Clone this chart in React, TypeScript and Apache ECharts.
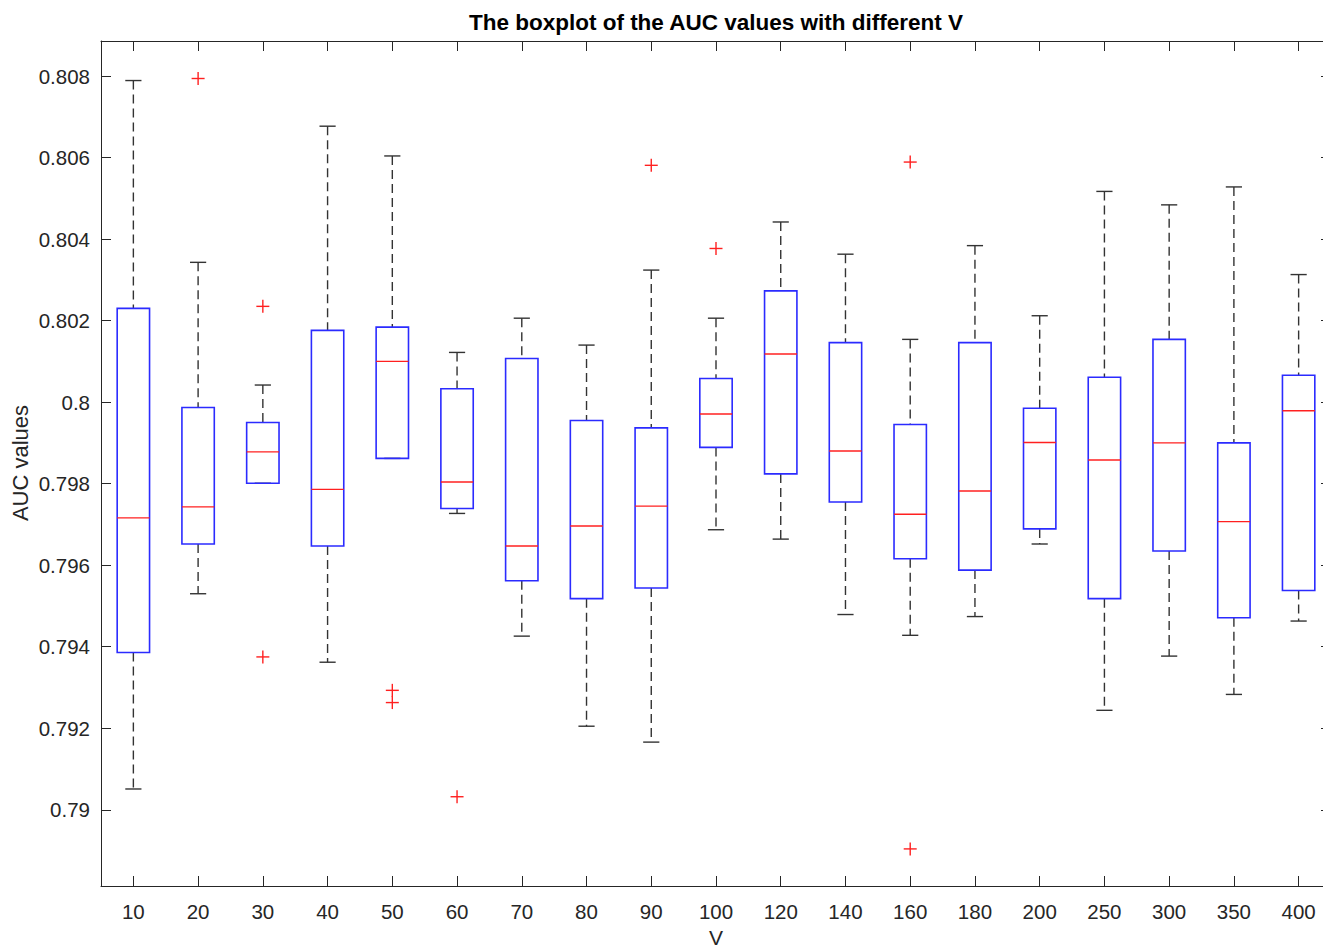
import React, { useEffect, useRef } from "react";
import * as echarts from "echarts";

const categories = ["10", "20", "30", "40", "50", "60", "70", "80", "90", "100", "120", "140", "160", "180", "200", "250", "300", "350", "400"];
const lowerWhisker = [0.79051, 0.7953, 0.79801, 0.79362, 0.79862, 0.79727, 0.79426, 0.79205, 0.79166, 0.79687, 0.79664, 0.79479, 0.79428, 0.79474, 0.79652, 0.79244, 0.79377, 0.79283, 0.79463];
const q1Values = [0.79386, 0.79652, 0.79801, 0.79647, 0.79862, 0.79739, 0.79562, 0.79518, 0.79544, 0.79889, 0.79824, 0.79755, 0.79616, 0.79588, 0.79689, 0.79518, 0.79635, 0.79471, 0.79538];
const medianValues = [0.79716, 0.79743, 0.79878, 0.79786, 0.801, 0.79804, 0.79647, 0.79696, 0.79745, 0.79971, 0.80118, 0.7988, 0.79725, 0.79782, 0.79901, 0.79858, 0.799, 0.79707, 0.79979];
const q3Values = [0.8023, 0.79987, 0.7995, 0.80176, 0.80184, 0.80033, 0.80107, 0.79955, 0.79937, 0.80058, 0.80273, 0.80146, 0.79945, 0.80146, 0.79985, 0.80061, 0.80154, 0.799, 0.80066];
const upperWhisker = [0.80789, 0.80343, 0.80042, 0.80677, 0.80604, 0.80122, 0.80206, 0.8014, 0.80324, 0.80206, 0.80442, 0.80363, 0.80154, 0.80384, 0.80212, 0.80517, 0.80484, 0.80528, 0.80313];
const outlierCategories = ["20", "30", "30", "50", "50", "60", "90", "100", "160", "160"];
const outlierValues = [0.80794, 0.80235, 0.79375, 0.79293, 0.79263, 0.79032, 0.80581, 0.80377, 0.80589, 0.78904];
const yTickValues = [0.79, 0.792, 0.794, 0.796, 0.798, 0.8, 0.802, 0.804, 0.806, 0.808];
const yMin = 0.78813;
const yMax = 0.80886;

const FONT = "'Liberation Sans', Arial, Helvetica, sans-serif";
const AXIS_COLOR = "#262626";

export default function App() {
  const ref = useRef<HTMLDivElement>(null);

  useEffect(() => {
    if (!ref.current) return;
    const chart = echarts.init(ref.current, null, { renderer: "svg" });

    const boxData = categories.map((_, i) => [
      i,
      lowerWhisker[i],
      q1Values[i],
      medianValues[i],
      q3Values[i],
      upperWhisker[i],
    ]);
    const outlierData = outlierCategories.map((c, i) => [categories.indexOf(c), outlierValues[i]]);

    const fmt = (v: number) => String(parseFloat(Number(v).toFixed(3)));

    const option: any = {
      animation: false,
      backgroundColor: "#ffffff",
      textStyle: { fontFamily: FONT },
      grid: { left: 101, top: 41, width: 1230, height: 845, containLabel: false },
      xAxis: [
        {
          type: "category",
          data: categories,
          position: "bottom",
          boundaryGap: true,
          axisLine: { show: true, lineStyle: { color: AXIS_COLOR, width: 1 } },
          axisTick: { show: true, inside: true, alignWithLabel: true, length: 10, lineStyle: { color: AXIS_COLOR } },
          axisLabel: { show: true, margin: 15, color: AXIS_COLOR, fontSize: 20.5, fontFamily: FONT, interval: 0 },
          splitLine: { show: false },
        },
        {
          type: "category",
          data: categories,
          position: "top",
          boundaryGap: true,
          axisLine: { show: true, lineStyle: { color: AXIS_COLOR, width: 1 } },
          axisTick: { show: true, inside: true, alignWithLabel: true, length: 10, lineStyle: { color: AXIS_COLOR } },
          axisLabel: { show: false },
          splitLine: { show: false },
        },
      ],
      yAxis: [
        {
          type: "value",
          position: "left",
          min: yMin,
          max: yMax,
          scale: true,
          axisLine: { show: true, lineStyle: { color: AXIS_COLOR, width: 1 } },
          axisTick: { show: true, inside: true, length: 10, customValues: yTickValues, lineStyle: { color: AXIS_COLOR } },
          axisLabel: { show: true, margin: 11, color: AXIS_COLOR, fontSize: 20.5, fontFamily: FONT, customValues: yTickValues, formatter: fmt },
          splitLine: { show: false },
        },
        {
          type: "value",
          position: "right",
          min: yMin,
          max: yMax,
          scale: true,
          axisLine: { show: true, lineStyle: { color: AXIS_COLOR, width: 1 } },
          axisTick: { show: true, inside: true, length: 10, customValues: yTickValues, lineStyle: { color: AXIS_COLOR } },
          axisLabel: { show: false },
          splitLine: { show: false },
        },
      ],
      graphic: [
        {
          type: "text",
          x: 716,
          y: 22,
          style: {
            text: "The boxplot of the AUC values with different V",
            font: `bold 22.5px ${FONT}`,
            fill: "#000000",
            textAlign: "center",
            textVerticalAlign: "middle",
          },
        },
        {
          type: "text",
          x: 716,
          y: 937,
          style: {
            text: "V",
            font: `21px ${FONT}`,
            fill: AXIS_COLOR,
            textAlign: "center",
            textVerticalAlign: "middle",
          },
        },
        {
          type: "text",
          x: 20,
          y: 463,
          rotation: Math.PI / 2,
          style: {
            text: "AUC values",
            font: `22px ${FONT}`,
            fill: AXIS_COLOR,
            textAlign: "center",
            textVerticalAlign: "middle",
          },
        },
      ],
      series: [
        {
          type: "custom",
          xAxisIndex: 0,
          yAxisIndex: 0,
          data: boxData,
          encode: { x: 0, y: [1, 2, 3, 4, 5] },
          renderItem: (params: any, api: any) => {
            const idx = api.value(0);
            const pLw = api.coord([idx, api.value(1)]);
            const pQ1 = api.coord([idx, api.value(2)]);
            const pMed = api.coord([idx, api.value(3)]);
            const pQ3 = api.coord([idx, api.value(4)]);
            const pUw = api.coord([idx, api.value(5)]);
            const band = api.size([1, 0])[0];
            const bw = band * 0.5;
            const cw = bw * 0.5;
            const cx = pMed[0];
            const whiskerStyle = { stroke: "#333333", lineWidth: 1.4, lineDash: [9, 5] };
            const capStyle = { stroke: "#333333", lineWidth: 1.4 };
            return {
              type: "group",
              children: [
                { type: "line", shape: { x1: cx, y1: pUw[1], x2: cx, y2: pQ3[1] }, style: whiskerStyle },
                { type: "line", shape: { x1: cx, y1: pQ1[1], x2: cx, y2: pLw[1] }, style: whiskerStyle },
                { type: "line", shape: { x1: cx - cw / 2, y1: pUw[1], x2: cx + cw / 2, y2: pUw[1] }, style: capStyle },
                { type: "line", shape: { x1: cx - cw / 2, y1: pLw[1], x2: cx + cw / 2, y2: pLw[1] }, style: capStyle },
                {
                  type: "rect",
                  shape: { x: cx - bw / 2, y: pQ3[1], width: bw, height: pQ1[1] - pQ3[1] },
                  style: { fill: "none", stroke: "#2b2bff", lineWidth: 1.6 },
                },
                {
                  type: "line",
                  shape: { x1: cx - bw / 2, y1: pMed[1], x2: cx + bw / 2, y2: pMed[1] },
                  style: { stroke: "#ff2020", lineWidth: 1.4 },
                },
              ],
            };
          },
          z: 3,
        },
        {
          type: "custom",
          xAxisIndex: 0,
          yAxisIndex: 0,
          data: outlierData,
          encode: { x: 0, y: 1 },
          renderItem: (params: any, api: any) => {
            const p = api.coord([api.value(0), api.value(1)]);
            const h = 6.5;
            const st = { stroke: "#ff2020", lineWidth: 1.4 };
            return {
              type: "group",
              children: [
                { type: "line", shape: { x1: p[0] - h, y1: p[1], x2: p[0] + h, y2: p[1] }, style: st },
                { type: "line", shape: { x1: p[0], y1: p[1] - h, x2: p[0], y2: p[1] + h }, style: st },
              ],
            };
          },
          z: 4,
        },
      ],
    };

    chart.setOption(option);
    return () => chart.dispose();
  }, []);

  return (
    <div style={{ position: "fixed", left: 0, top: 0, width: 1323, height: 950, overflow: "hidden", background: "#fff" }}>
      <div ref={ref} style={{ position: "absolute", left: 0, top: 0, width: 1345, height: 950 }} />
    </div>
  );
}
